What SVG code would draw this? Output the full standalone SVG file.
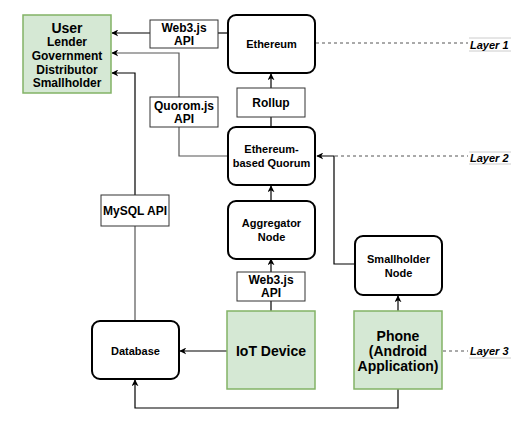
<svg xmlns="http://www.w3.org/2000/svg" width="526" height="423" viewBox="0 0 526 423">
<defs>
<marker id="arr" viewBox="0 0 10 10" refX="9" refY="5" markerWidth="7" markerHeight="7" markerUnits="userSpaceOnUse" orient="auto">
<path d="M0,0 L10,5 L0,10 L3,5 Z" fill="#000"/>
</marker>
<style>
text{font-family:"Liberation Sans",Arial,sans-serif;font-weight:bold;text-anchor:middle;dominant-baseline:central;fill:#000}
.node{fill:#fff;stroke:#000;stroke-width:2}
.api{fill:#fff;stroke:#333;stroke-width:1}
.green{fill:#d5e8d4;stroke:#82b366;stroke-width:1.5}
.c{fill:none;stroke:#000;stroke-width:1.2}
.g{fill:none;stroke:#555;stroke-width:1.2}
.dash{fill:none;stroke:#555;stroke-width:1;stroke-dasharray:3 3}
.lay{font-size:11px;font-style:italic;text-anchor:start}
.ln{stroke:#ccc;stroke-width:1}
.s11{font-size:11px}
.s12{font-size:12px}
.s14{font-size:14px}
</style>
</defs>
<rect width="526" height="423" fill="#fff"/>
<g id="connectors">
<path class="c" d="M150,33 H112" marker-end="url(#arr)"/>
<path class="c" d="M218,33 H227"/>
<path class="g" d="M179,97 V53 H112" marker-end="url(#arr)"/>
<path class="g" d="M179,127 V156 H227"/>
<path class="c" d="M135,195 V73 H112" marker-end="url(#arr)"/>
<path class="g" d="M135,321 V226"/>
<path class="c" d="M271,88 V74" marker-end="url(#arr)"/>
<path class="c" d="M271,127 V117"/>
<path class="c" d="M271,201 V186" marker-end="url(#arr)"/>
<path class="c" d="M271,272 V259" marker-end="url(#arr)"/>
<path class="c" d="M271,311 V301"/>
<path class="c" d="M354,264 H334 V156 H317" marker-end="url(#arr)"/>
<path class="c" d="M398,311 V296" marker-end="url(#arr)"/>
<path class="c" d="M227,351 H180" marker-end="url(#arr)"/>
<path class="c" d="M398,389 V408 H135 V380" marker-end="url(#arr)"/>
<path class="dash" d="M316,43 H468"/>
<path class="dash" d="M335,156 H468"/>
<path class="dash" d="M443,351 H468"/>
</g>
<g id="user">
<rect class="green" x="23" y="15" width="88" height="78"/>
<text class="s14" x="67" y="28">User</text>
<text class="s12" x="67" y="42">Lender</text>
<text class="s12" x="67" y="56">Government</text>
<text class="s12" x="67" y="69.5">Distributor</text>
<text class="s12" x="67" y="83">Smallholder</text>
</g>
<g id="web3-api-top">
<rect class="api" x="150" y="20" width="68" height="28"/>
<text class="s12" x="184" y="28">Web3.js</text>
<text class="s12" x="184" y="41">API</text>
</g>
<g id="ethereum">
<rect class="node" x="228" y="15" width="87" height="58" rx="8"/>
<text class="s11" x="271.5" y="44">Ethereum</text>
</g>
<g id="rollup">
<rect class="api" x="237" y="88" width="68" height="29"/>
<text class="s12" x="271" y="102.5">Rollup</text>
</g>
<g id="quorom-api">
<rect class="api" x="150" y="97" width="68" height="30"/>
<text class="s12" x="184" y="105.5">Quorom.js</text>
<text class="s12" x="184" y="119">API</text>
</g>
<g id="quorum">
<rect class="node" x="228" y="127" width="87" height="58" rx="8"/>
<text class="s11" x="271.5" y="149">Ethereum-</text>
<text class="s11" x="271.5" y="163">based Quorum</text>
</g>
<g id="mysql-api">
<rect class="api" x="101" y="195" width="68" height="31"/>
<text class="s12" x="135" y="210.5">MySQL API</text>
</g>
<g id="aggregator">
<rect class="node" x="228" y="201" width="87" height="58" rx="8"/>
<text class="s11" x="271.5" y="223">Aggregator</text>
<text class="s11" x="271.5" y="237">Node</text>
</g>
<g id="web3-api-bottom">
<rect class="api" x="237" y="272" width="68" height="29"/>
<text class="s12" x="271" y="280">Web3.js</text>
<text class="s12" x="271" y="293">API</text>
</g>
<g id="smallholder">
<rect class="node" x="355" y="236" width="87" height="59" rx="8"/>
<text class="s11" x="398.5" y="259">Smallholder</text>
<text class="s11" x="398.5" y="273">Node</text>
</g>
<g id="database">
<rect class="node" x="92" y="321" width="87" height="58" rx="8"/>
<text class="s11" x="135.5" y="350.5">Database</text>
</g>
<g id="iot">
<rect class="green" x="227" y="311" width="88" height="78"/>
<text class="s14" x="271" y="351">IoT Device</text>
</g>
<g id="phone">
<rect class="green" x="354" y="311" width="88" height="78"/>
<text class="s14" x="398" y="336">Phone</text>
<text class="s14" x="398" y="351">(Android</text>
<text class="s14" x="398" y="366">Application)</text>
</g>
<g id="layer1">
<line class="ln" x1="469" y1="38" x2="511" y2="38"/>
<line class="ln" x1="469" y1="51" x2="511" y2="51"/>
<text class="lay" x="470" y="44.5">Layer 1</text>
</g>
<g id="layer2">
<line class="ln" x1="469" y1="152" x2="511" y2="152"/>
<line class="ln" x1="469" y1="164" x2="511" y2="164"/>
<text class="lay" x="470" y="157.5">Layer 2</text>
</g>
<g id="layer3">
<line class="ln" x1="469" y1="358" x2="511" y2="358"/>
<text class="lay" x="470" y="351">Layer 3</text>
</g>
</svg>
